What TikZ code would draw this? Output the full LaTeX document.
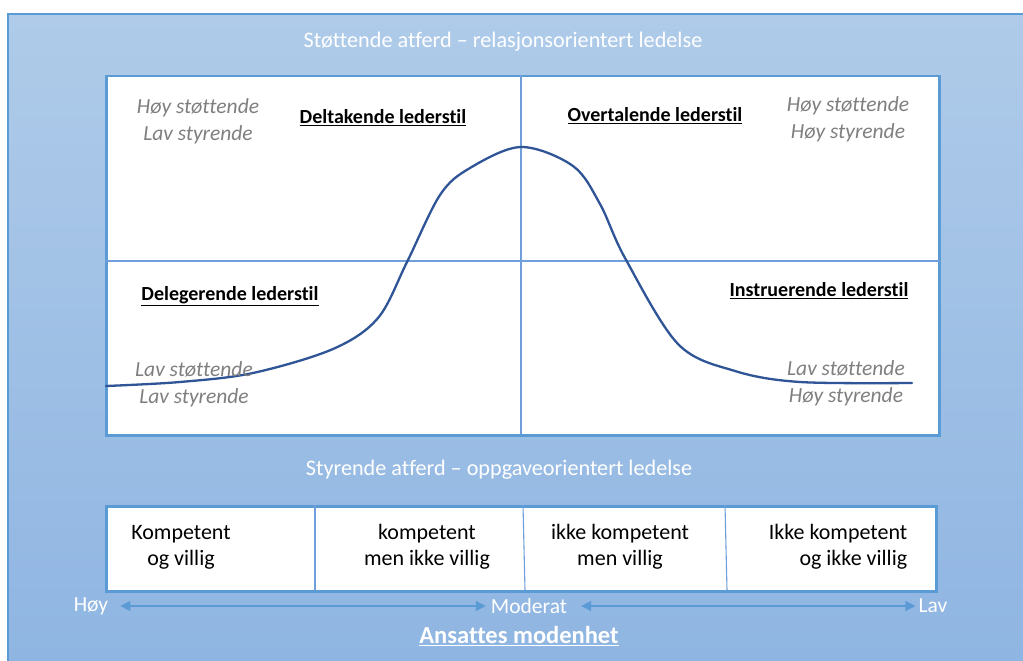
\documentclass[tikz,border=0pt]{standalone}
\usepackage{fontspec}
\setmainfont{Carlito}[Ligatures=NoCommon]
\usetikzlibrary{arrows.meta}
\definecolor{bgtop}{HTML}{AFCBE9}
\definecolor{bgbot}{HTML}{8FB5E2}
\definecolor{edgeblue}{HTML}{5B9BD5}
\definecolor{gridblue}{HTML}{6E9FDA}
\definecolor{curveblue}{HTML}{2F5597}
\definecolor{graytxt}{HTML}{7F7F7F}
\tikzset{
  graylbl/.style={text=graytxt, font=\fontsize{21.5}{27}\selectfont\itshape, align=center, inner sep=0pt},
  stylelbl/.style={text=black, font=\fontsize{20}{22}\selectfont\bfseries, inner sep=0pt},
  whitelbl/.style={text=white, font=\fontsize{22.2}{24}\selectfont, inner sep=0pt},
  celltxt/.style={text=black, font=\fontsize{22}{26}\selectfont, align=center, inner sep=0pt},
  scalelbl/.style={text=white, font=\fontsize{21.5}{24}\selectfont, inner sep=0pt},
  frame/.style={draw=edgeblue, line width=2.5pt, fill=white},
  divider/.style={draw=gridblue, line width=1.1pt},
  scalearrow/.style={draw=edgeblue, line width=1.4pt, {Triangle[width=10pt,length=10pt]}-{Triangle[width=10pt,length=10pt]}}
}
\begin{document}
\begin{tikzpicture}[x=1pt,y=-1pt]
\useasboundingbox (0,0) rectangle (1023,661);
\fill[white] (0,0) rectangle (1023,661);
\shade[top color=bgtop, bottom color=bgbot] (8,14) rectangle (1023,661);
\draw[edgeblue, line width=1.8pt] (8,661) -- (8,14) -- (1023,14);

% titles
\node[whitelbl] (ttop) at (503,42) {Støttende atferd – relasjonsorientert ledelse};
\node[whitelbl] (tmid) at (499,470) {Styrende atferd – oppgaveorientert ledelse};

% quadrant box
\node[frame, minimum width=833pt, minimum height=359pt, anchor=north west, inner sep=0pt] (quad) at (105,75) {};
\coordinate (vtop) at (521,75);
\coordinate (vbot) at (521,434);
\coordinate (hl) at (105,261);
\coordinate (hr) at (941,261);
\draw[divider] (vtop) -- (vbot);
\draw[divider] (hl) -- (hr);

% curve
\draw[curveblue, line width=2.3pt, line cap=round] plot[smooth, tension=0.55] coordinates {
(106,386) (180,382) (253,373) (333,349) (378,318) (407,262) (440,195) (470,168) (521,147)
(573,166) (600,204) (625,258) (678,344) (735,371) (800,382) (912,383)};

% quadrant labels
\node[graylbl] (q1) at (198,121) {Høy støttende\\Lav styrende};
\node[stylelbl] (s1) at (383,118) {\underline{Deltakende lederstil}};
\node[stylelbl] (s2) at (655,116) {\underline{Overtalende lederstil}};
\node[graylbl] (q2) at (848,119) {Høy støttende\\Høy styrende};
\node[stylelbl] (s3) at (230,296) {\underline{Delegerende lederstil}};
\node[stylelbl] (s4) at (819,291) {\underline{Instruerende lederstil}};
\node[graylbl] (q3) at (194,384) {Lav støttende\\Lav styrende};
\node[graylbl] (q4) at (846,383) {Lav støttende\\Høy styrende};

% maturity boxes
\node[frame, minimum width=830pt, minimum height=85pt, anchor=north west, inner sep=0pt] (mat) at (105,505) {};
\coordinate (d1t) at (315,505); \coordinate (d1b) at (315,590);
\coordinate (d2t) at (523,505); \coordinate (d2b) at (525,590);
\coordinate (d3t) at (725,505); \coordinate (d3b) at (727,590);
\draw[divider] (d1t) -- (d1b);
\draw[divider] (d2t) -- (d2b);
\draw[divider] (d3t) -- (d3b);
\node[celltxt] (c1) at (181,547) {Kompetent\\og villig};
\node[celltxt] (c2) at (427,547) {kompetent\\men ikke villig};
\node[celltxt] (c3) at (620,547) {ikke kompetent\\men villig};
\node[celltxt, align=right] (c4) at (838,547) {Ikke kompetent\\og ikke villig};

% scale
\node[scalelbl] (hoy) at (91,606) {Høy};
\node[scalelbl] (mod) at (529,606) {Moderat};
\node[scalelbl] (lav) at (933,606) {Lav};
\draw[scalearrow, shorten <=12pt, shorten >=5pt] (hoy.east) -- (mod.west);
\draw[scalearrow, shorten <=14pt, shorten >=3pt] (mod.east) -- (lav.west);
\node[text=white, font=\fontsize{24.5}{28}\selectfont\bfseries, inner sep=0pt] (ans) at (519,636) {\underline{Ansattes modenhet}};
\end{tikzpicture}
\end{document}
